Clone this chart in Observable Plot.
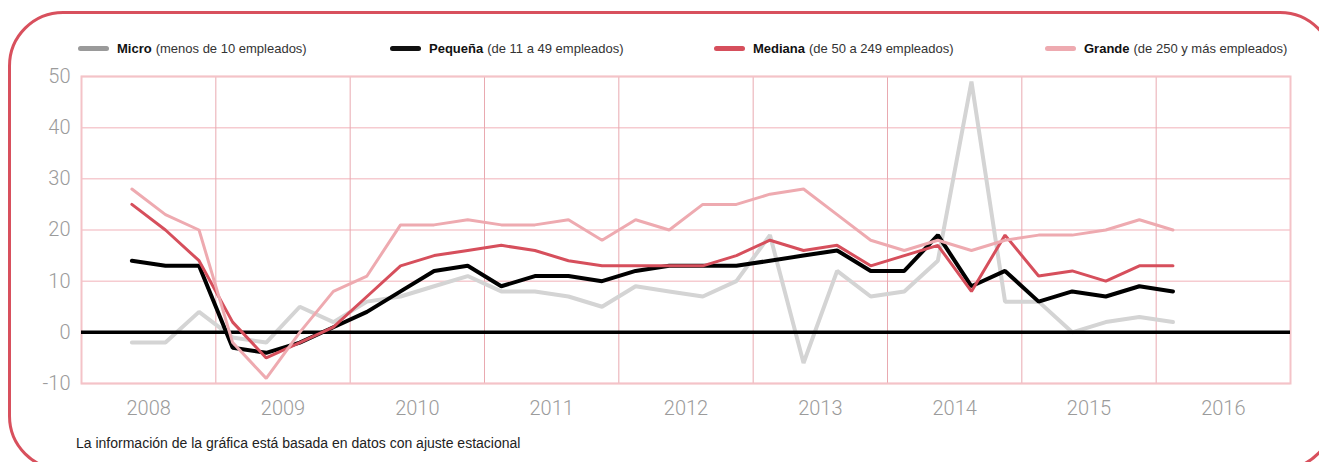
<!DOCTYPE html>
<html>
<head>
<meta charset="utf-8">
<script src="https://cdn.jsdelivr.net/npm/d3@7"></script>
<script src="https://cdn.jsdelivr.net/npm/@observablehq/plot@0.6"></script>
<style>
  html, body { margin: 0; padding: 0; background: #fff; overflow: hidden; }
  #page { position: relative; width: 1319px; height: 462px; overflow: hidden; font-family: "Liberation Sans", Arial, sans-serif; }
  #box { position: absolute; left: 8px; top: 11px; width: 1327px; height: 460px; box-sizing: border-box; border: 3px solid #d8505d; border-radius: 55px; }
  #chart { position: absolute; left: 0; top: 60px; }
  .leg { position: absolute; top: 40px; height: 16px; display: flex; align-items: center; font-size: 13px; color: #333; white-space: nowrap; }
  .leg .sw { display: inline-block; width: 31px; height: 5px; border-radius: 3px; margin-right: 8px; }
  .leg b { color: #111; font-weight: bold; margin-right: 4px; }
  #caption { position: absolute; left: 76px; top: 435px; font-size: 14px; color: #222; }
</style>
</head>
<body>
<div id="page">
  <div id="box"></div>
  <div id="legend"></div>
  <div id="chart"></div>
  <div id="caption">La información de la gráfica está basada en datos con ajuste estacional</div>
</div>
<script>
// Quarters (trimestres) 2008 T2 – 2016 T1
const periods = [
  "2008 T2","2008 T3","2008 T4","2009 T1","2009 T2","2009 T3","2009 T4","2010 T1",
  "2010 T2","2010 T3","2010 T4","2011 T1","2011 T2","2011 T3","2011 T4","2012 T1",
  "2012 T2","2012 T3","2012 T4","2013 T1","2013 T2","2013 T3","2013 T4","2014 T1",
  "2014 T2","2014 T3","2014 T4","2015 T1","2015 T2","2015 T3","2015 T4","2016 T1"
];
const micro   = [-2,-2,4,-1,-2,5,2,6, 7,9,11,8,8,7,5,9, 8,7,10,19,-6,12,7,8, 14,49,6,6,0,2,3,2];
const pequena = [14,13,13,-3,-4,-2,1,4, 8,12,13,9,11,11,10,12, 13,13,13,14,15,16,12,12, 19,9,12,6,8,7,9,8];
const mediana = [25,20,14,2,-5,-2,1,7, 13,15,16,17,16,14,13,13, 13,13,15,18,16,17,13,15, 17,8,19,11,12,10,13,13];
const grande  = [28,23,20,-2,-9,0,8,11, 21,21,22,21,21,22,18,22, 20,25,25,27,28,23,18,16, 18,16,18,19,19,20,22,20];

const yearLabels = ["2008","2009","2010","2011","2012","2013","2014","2015","2016"];
const yTicks = [-10, 0, 10, 20, 30, 40, 50];

const seriesNames = ["Micro", "Pequeña", "Mediana", "Grande"];
const seriesNotes = ["(menos de 10 empleados)", "(de 11 a 49 empleados)", "(de 50 a 249 empleados)", "(de 250 y más empleados)"];
const lineColors = ["#d4d4d4", "#000000", "#d64f5c", "#eeaab0"];
const swatchColors = ["#9a9a9a", "#111111", "#d64f5c", "#eeaab0"];
const lineWidths = [4, 4, 3, 3];
const legendLeft = [78, 390, 714, 1045];

const tOf = p => +p.slice(0, 4) + (+p.slice(-1) - 0.5) / 4;
const values = [micro, pequena, mediana, grande];
const data = values.map((arr, s) => periods.map((p, i) => ({t: tOf(p), v: arr[i], s: seriesNames[s]})));

const years = yearLabels.map(Number);
const innerGrid = years.slice(1); // 2009..2016
const fontFam = "Roboto, 'Liberation Sans', Arial, sans-serif";

const chart = Plot.plot({
  width: 1319,
  height: 370,
  marginLeft: 81,
  marginRight: 29,
  marginTop: 16,
  marginBottom: 47,
  x: {domain: [years[0], years[years.length - 1] + 1], axis: null},
  y: {domain: [yTicks[0], yTicks[yTicks.length - 1]], axis: null},
  style: {background: "transparent", overflow: "visible"},
  marks: [
    Plot.ruleY(yTicks, {stroke: "#f6cbd0", strokeWidth: 1.5}),
    Plot.ruleX(innerGrid, {stroke: "#e9a9b0", strokeWidth: 1}),
    Plot.frame({stroke: "#f4c3c8", strokeWidth: 2}),
    Plot.lineY(data[0], {x: "t", y: "v", stroke: lineColors[0], strokeWidth: lineWidths[0], strokeLinejoin: "miter"}),
    Plot.ruleY([0], {stroke: "#000", strokeWidth: 3.5}),
    Plot.lineY(data[1], {x: "t", y: "v", stroke: lineColors[1], strokeWidth: lineWidths[1], strokeLinejoin: "miter"}),
    Plot.lineY(data[2], {x: "t", y: "v", stroke: lineColors[2], strokeWidth: lineWidths[2], strokeLinejoin: "miter"}),
    Plot.lineY(data[3], {x: "t", y: "v", stroke: lineColors[3], strokeWidth: lineWidths[3], strokeLinejoin: "miter"}),
    Plot.text(yTicks, {x: years[0], y: d => d, text: d => String(d), dx: -11, textAnchor: "end",
      fontSize: 20, fill: "#9b9b9b", fontFamily: fontFam, fontWeight: 300}),
    Plot.text(yearLabels, {x: d => +d + 0.5, y: yTicks[0], text: d => d, dy: 25,
      fontSize: 20, fill: "#9b9b9b", fontFamily: fontFam, fontWeight: 300})
  ]
});
document.getElementById("chart").appendChild(chart);

const legend = document.getElementById("legend");
seriesNames.forEach((n, i) => {
  const d = document.createElement("div");
  d.className = "leg";
  d.style.left = legendLeft[i] + "px";
  d.innerHTML = `<span class="sw" style="background:${swatchColors[i]}"></span><b>${n}</b><span>${seriesNotes[i]}</span>`;
  legend.appendChild(d);
});
</script>
</body>
</html>
